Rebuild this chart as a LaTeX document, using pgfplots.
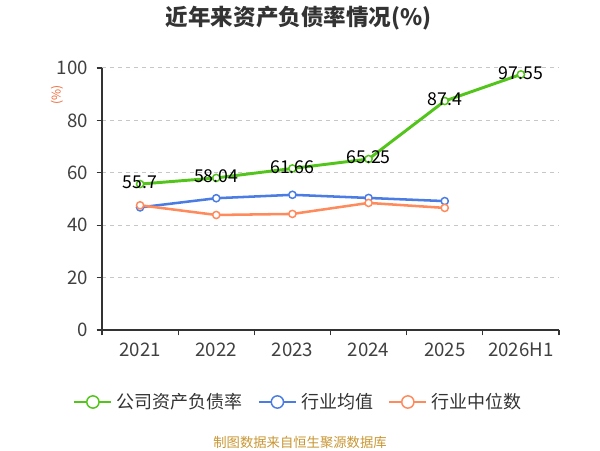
\documentclass[border=0pt]{standalone}
\usepackage{pgfplots}
\pgfplotsset{compat=1.18}
\usepackage{fontspec}
\setmainfont{Noto Sans CJK SC}
\definecolor{cgreen}{RGB}{82,196,26}
\definecolor{cblue}{RGB}{74,124,228}
\definecolor{corange}{RGB}{255,138,92}
\definecolor{axiscol}{RGB}{51,51,51}
\definecolor{labcol}{RGB}{64,64,64}
\definecolor{ylabcol}{RGB}{238,102,52}
\definecolor{footcol}{RGB}{200,150,50}
\begin{document}
\begin{tikzpicture}
\path[use as bounding box] (0,0) rectangle (450pt,337.5pt);
\node[font=\fontsize{16.9}{20}\selectfont\bfseries, text=axiscol] at (224pt,324pt) {近年来资产负债率情况(\%)};
\begin{axis}[
  at={(76.5pt,90pt)}, anchor=south west,
  scale only axis, width=342.75pt, height=196.5pt,
  xmin=-0.5, xmax=5.5, ymin=0, ymax=100,
  axis x line*=bottom, axis y line*=left,
  axis line style={draw=axiscol, line width=0.8pt, -},
  xtick={0,...,5},
  xticklabels={2021,2022,2023,2024,2025,2026H1},
  minor xtick={-0.5,0.5,...,5.5},
  major x tick style={draw=none},
  minor x tick style={draw=axiscol, line width=0.8pt},
  y tick style={draw=axiscol, line width=0.8pt},
  tick align=outside,
  major tick length=4pt, minor tick length=4pt,
  ytick={0,20,...,100},
  ymajorgrids,
  grid style={dashed, draw=black!22, line width=0.75pt},
  tick label style={font=\fontsize{14}{16}\selectfont, text=labcol},
  /pgf/number format/assume math mode=true,
  xticklabel style={yshift=-2pt},
  yticklabel style={xshift=-3pt},
  ylabel={(\%)},
  ylabel style={at={(axis description cs:-0.0985,0.897)}, anchor=center,
    font=\fontsize{9}{10}\selectfont, text=ylabcol},
  legend columns=3,
  legend style={at={(0.4333,-0.2748)}, anchor=center, draw=none, fill=none,
    font=\fontsize{13.5}{16}\selectfont, text=axiscol,
    /tikz/every even column/.append style={column sep=8pt},
    nodes={inner sep=3.5pt}},
  legend image code/.code={
    \draw[#1, line width=1.1pt, mark size=4.6pt, mark repeat=2, mark phase=2]
      plot coordinates {(0pt,0pt) (13.9pt,0pt) (27.75pt,0pt)};
  },
]
\addplot[draw=cgreen, line width=2.2pt, mark=*, mark size=2.7pt,
  mark options={fill=white, draw=cgreen, line width=1.1pt},
  point meta=explicit symbolic,
  nodes near coords,
  nodes near coords style={anchor=center, yshift=1.2pt, font=\fontsize{13.3}{15}\selectfont, text=black}]
  coordinates {(0,55.7)[55.7] (1,58.04)[58.04] (2,61.66)[61.66] (3,65.25)[65.25] (4,87.4)[87.4] (5,97.55)[97.55]};
\addlegendentry{公司资产负债率}
\addplot[draw=cblue, line width=1.9pt, mark=*, mark size=2.7pt,
  mark options={fill=white, draw=cblue, line width=1.1pt}]
  coordinates {(0,46.8) (1,50.3) (2,51.6) (3,50.4) (4,49.2)};
\addlegendentry{行业均值}
\addplot[draw=corange, line width=1.9pt, mark=*, mark size=2.7pt,
  mark options={fill=white, draw=corange, line width=1.1pt}]
  coordinates {(0,47.6) (1,43.9) (2,44.3) (3,48.5) (4,46.6)};
\addlegendentry{行业中位数}
\end{axis}
\node[font=\fontsize{10}{12}\selectfont, text=footcol] at (225pt,6pt) {制图数据来自恒生聚源数据库};
\end{tikzpicture}
\end{document}
